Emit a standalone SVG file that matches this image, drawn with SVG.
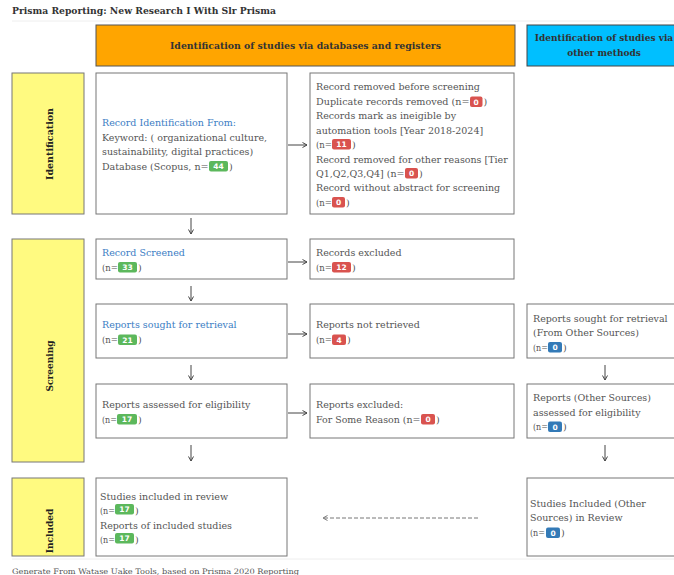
<svg xmlns="http://www.w3.org/2000/svg" width="674" height="575" viewBox="0 0 674 575">
<style>
.t{font-family:"DejaVu Serif","Liberation Serif",serif;font-size:9.5px;fill:#555}
.bl{fill:#3b7dc4}
.hdr{font-family:"DejaVu Serif","Liberation Serif",serif;font-weight:bold;font-size:9px;fill:#333}
.side{font-family:"DejaVu Serif","Liberation Serif",serif;font-weight:bold;font-size:9px;fill:#222;text-anchor:middle}
.box{fill:#fff;stroke:#777;stroke-width:1}
.yb{fill:#fffa80;stroke:#777;stroke-width:1}
.bg{fill:#5cb85c}.br{fill:#d9534f}.bb{fill:#337ab7}
.bt{font-family:"DejaVu Sans","Liberation Sans",sans-serif;font-size:7.5px;font-weight:bold;fill:#fff;text-anchor:middle}
.ar{stroke:#444;stroke-width:1;fill:none}
.dash{stroke:#777;stroke-width:1;fill:none;stroke-dasharray:4 2}
.ft{font-family:"DejaVu Serif","Liberation Serif",serif;font-size:7.5px;fill:#555}
</style>
<defs>
<marker id="ah" markerWidth="6" markerHeight="6" refX="5" refY="3" orient="auto" markerUnits="userSpaceOnUse">
<path d="M0.5,0.5 L5,3 L0.5,5.5" fill="none" stroke="#444" stroke-width="1"/>
</marker>
<marker id="ahg" markerWidth="6" markerHeight="6" refX="5" refY="3" orient="auto" markerUnits="userSpaceOnUse">
<path d="M0.5,0.5 L5,3 L0.5,5.5" fill="none" stroke="#777" stroke-width="1"/>
</marker>
</defs>
<rect width="674" height="575" fill="#fff"/>
<text x="12" y="14" class="hdr" textLength="264" lengthAdjust="spacingAndGlyphs">Prisma Reporting: New Research I With Slr Prisma</text>
<line x1="12" y1="21" x2="674" y2="21" stroke="#eee" stroke-width="1"/>
<line x1="12" y1="559" x2="674" y2="559" stroke="#eee" stroke-width="1"/>

<g id="hdr-db">
<rect x="96" y="25" width="419" height="41" fill="#ffa500" stroke="#555" stroke-width="1"/>
<text x="305.5" y="48.5" class="hdr" text-anchor="middle" textLength="271" lengthAdjust="spacingAndGlyphs">Identification of studies via databases and registers</text>
</g>
<g id="hdr-other">
<rect x="527" y="25" width="160" height="41" fill="#00bfff" stroke="#444" stroke-width="1"/>
<text x="604" y="41" class="hdr" text-anchor="middle">Identification of studies via</text>
<text x="604" y="55.5" class="hdr" text-anchor="middle">other methods</text>
</g>

<g id="phase-identification">
<rect x="12" y="73" width="72" height="141" class="yb"/>
<text class="side" transform="translate(53,144) rotate(-90)" textLength="72" lengthAdjust="spacingAndGlyphs">Identification</text>
</g>
<g id="phase-screening">
<rect x="12" y="239" width="72" height="223" class="yb"/>
<text class="side" transform="translate(53,366) rotate(-90)">Screening</text>
</g>
<g id="phase-included">
<rect x="12" y="478" width="72" height="78" class="yb"/>
<text class="side" transform="translate(53,531) rotate(-90)">Included</text>
</g>

<g id="n-identified">
<rect x="96" y="73" width="191" height="141" class="box"/>
<text x="102" y="126" class="t bl">Record Identification From:</text>
<text x="102" y="140.5" class="t">Keyword: ( organizational culture,</text>
<text x="102" y="155" class="t">sustainability, digital practices)</text>
<text x="102" y="169.5" class="t" textLength="106.5" lengthAdjust="spacingAndGlyphs">Database (Scopus, n=</text>
<rect x="209" y="161" width="19" height="10.5" rx="2" class="bg"/><text x="218.5" y="169.2" class="bt">44</text>
<text x="229" y="169.5" class="t">)</text>
</g>

<g id="n-removed">
<rect x="310" y="73" width="204" height="141" class="box"/>
<text x="316" y="89.5" class="t">Record removed before screening</text>
<text x="316" y="104.5" class="t" textLength="153.5" lengthAdjust="spacingAndGlyphs">Duplicate records removed (n=</text>
<rect x="470" y="96.5" width="12.5" height="10.5" rx="2" class="br"/><text x="476.2" y="104.7" class="bt">0</text>
<text x="483.5" y="104.5" class="t">)</text>
<text x="316" y="118.5" class="t">Records mark as ineigible by</text>
<text x="316" y="133.5" class="t">automation tools [Year 2018-2024]</text>
<text x="316" y="147.5" class="t" textLength="16" lengthAdjust="spacingAndGlyphs">(n=</text>
<rect x="332" y="139" width="19" height="10.5" rx="2" class="br"/><text x="341.5" y="147.2" class="bt">11</text>
<text x="352" y="147.5" class="t">)</text>
<text x="316" y="162.5" class="t">Record removed for other reasons [Tier</text>
<text x="316" y="176.5" class="t" textLength="88.5" lengthAdjust="spacingAndGlyphs">Q1,Q2,Q3,Q4] (n=</text>
<rect x="405" y="168" width="13" height="10.5" rx="2" class="br"/><text x="411.5" y="176.2" class="bt">0</text>
<text x="419" y="176.5" class="t">)</text>
<text x="316" y="190.5" class="t">Record without abstract for screening</text>
<text x="316" y="205.5" class="t" textLength="16" lengthAdjust="spacingAndGlyphs">(n=</text>
<rect x="332" y="197" width="13" height="10.5" rx="2" class="br"/><text x="338.5" y="205.2" class="bt">0</text>
<text x="346" y="205.5" class="t">)</text>
</g>

<g id="n-screened">
<rect x="96" y="239" width="191" height="40" class="box"/>
<text x="102" y="255.5" class="t bl">Record Screened</text>
<text x="102" y="270.5" class="t" textLength="16" lengthAdjust="spacingAndGlyphs">(n=</text>
<rect x="118" y="262" width="19" height="10.5" rx="2" class="bg"/><text x="127.5" y="270.2" class="bt">33</text>
<text x="138" y="270.5" class="t">)</text>
</g>

<g id="n-excluded">
<rect x="310" y="239" width="204" height="40" class="box"/>
<text x="316" y="255.5" class="t">Records excluded</text>
<text x="316" y="270.5" class="t" textLength="16" lengthAdjust="spacingAndGlyphs">(n=</text>
<rect x="332" y="262" width="19" height="10.5" rx="2" class="br"/><text x="341.5" y="270.2" class="bt">12</text>
<text x="352" y="270.5" class="t">)</text>
</g>

<g id="n-sought">
<rect x="96" y="304" width="191" height="54" class="box" stroke="#444"/>
<text x="102" y="327.5" class="t bl">Reports sought for retrieval</text>
<text x="102" y="342.5" class="t" textLength="16" lengthAdjust="spacingAndGlyphs">(n=</text>
<rect x="118" y="334.5" width="19" height="10.5" rx="2" class="bg"/><text x="127.5" y="342.7" class="bt">21</text>
<text x="138" y="342.5" class="t">)</text>
</g>

<g id="n-notretrieved">
<rect x="310" y="304" width="204" height="54" class="box"/>
<text x="316" y="327.5" class="t">Reports not retrieved</text>
<text x="316" y="342.5" class="t" textLength="16" lengthAdjust="spacingAndGlyphs">(n=</text>
<rect x="332" y="334.5" width="14" height="10.5" rx="2" class="br"/><text x="339" y="342.7" class="bt">4</text>
<text x="347" y="342.5" class="t">)</text>
</g>

<g id="n-other-sought">
<rect x="527" y="304" width="160" height="54" class="box"/>
<text x="533" y="321.5" class="t">Reports sought for retrieval</text>
<text x="533" y="335.5" class="t">(From Other Sources)</text>
<text x="533" y="350.5" class="t" textLength="15" lengthAdjust="spacingAndGlyphs">(n=</text>
<rect x="548" y="342" width="14" height="10.5" rx="2" class="bb"/><text x="555" y="350.2" class="bt">0</text>
<text x="563" y="350.5" class="t">)</text>
</g>

<g id="n-assessed">
<rect x="96" y="384" width="191" height="54" class="box"/>
<text x="102" y="407.5" class="t">Reports assessed for eligibility</text>
<text x="102" y="422.5" class="t" textLength="15" lengthAdjust="spacingAndGlyphs">(n=</text>
<rect x="117" y="414" width="20" height="10.5" rx="2" class="bg"/><text x="127" y="422.2" class="bt">17</text>
<text x="138" y="422.5" class="t">)</text>
</g>

<g id="n-reports-excluded">
<rect x="310" y="384" width="204" height="54" class="box"/>
<text x="316" y="407.5" class="t">Reports excluded:</text>
<text x="316" y="422.5" class="t" textLength="104.5" lengthAdjust="spacingAndGlyphs">For Some Reason (n=</text>
<rect x="421" y="414" width="14" height="10.5" rx="2" class="br"/><text x="428" y="422.2" class="bt">0</text>
<text x="436" y="422.5" class="t">)</text>
</g>

<g id="n-other-assessed">
<rect x="527" y="384" width="160" height="54" class="box"/>
<text x="533" y="400.5" class="t">Reports (Other Sources)</text>
<text x="533" y="415.5" class="t">assessed for eligibility</text>
<text x="533" y="429.5" class="t" textLength="15" lengthAdjust="spacingAndGlyphs">(n=</text>
<rect x="548" y="421.5" width="14" height="10.5" rx="2" class="bb"/><text x="555" y="429.7" class="bt">0</text>
<text x="563" y="429.5" class="t">)</text>
</g>

<g id="n-included">
<rect x="96" y="478" width="191" height="78" class="box"/>
<text x="100" y="499.5" class="t">Studies included in review</text>
<text x="100" y="513.5" class="t" textLength="15" lengthAdjust="spacingAndGlyphs">(n=</text>
<rect x="115" y="504" width="19" height="10.5" rx="2" class="bg"/><text x="124.5" y="512.2" class="bt">17</text>
<text x="135" y="513.5" class="t">)</text>
<text x="100" y="528.5" class="t">Reports of included studies</text>
<text x="100" y="542.5" class="t" textLength="15" lengthAdjust="spacingAndGlyphs">(n=</text>
<rect x="115" y="533" width="19" height="10.5" rx="2" class="bg"/><text x="124.5" y="541.2" class="bt">17</text>
<text x="135" y="542.5" class="t">)</text>
</g>

<g id="n-other-included">
<rect x="527" y="478" width="160" height="78" class="box"/>
<text x="530" y="506.5" class="t">Studies Included (Other</text>
<text x="530" y="520.5" class="t">Sources) in Review</text>
<text x="530" y="535.5" class="t" textLength="15" lengthAdjust="spacingAndGlyphs">(n=</text>
<rect x="546" y="527.5" width="14" height="10.5" rx="2" class="bb"/><text x="553" y="535.7" class="bt">0</text>
<text x="561" y="535.5" class="t">)</text>
</g>

<g id="connectors">
<line x1="191" y1="218" x2="191" y2="234" class="ar" marker-end="url(#ah)"/>
<line x1="191" y1="286" x2="191" y2="301" class="ar" marker-end="url(#ah)"/>
<line x1="191" y1="365" x2="191" y2="380" class="ar" marker-end="url(#ah)"/>
<line x1="191" y1="445" x2="191" y2="461" class="ar" marker-end="url(#ah)"/>
<line x1="605" y1="365" x2="605" y2="380" class="ar" marker-end="url(#ah)"/>
<line x1="605" y1="445" x2="605" y2="461" class="ar" marker-end="url(#ah)"/>
<line x1="288" y1="145" x2="307" y2="145" class="ar" marker-end="url(#ah)"/>
<line x1="288" y1="262" x2="307" y2="262" class="ar" marker-end="url(#ah)"/>
<line x1="288" y1="334" x2="307" y2="334" class="ar" marker-end="url(#ah)"/>
<line x1="288" y1="413" x2="307" y2="413" class="ar" marker-end="url(#ah)"/>
<line x1="478" y1="518" x2="323" y2="518" class="dash" marker-end="url(#ahg)"/>
</g>

<text x="12" y="574" class="ft" textLength="287" lengthAdjust="spacingAndGlyphs">Generate From Watase Uake Tools, based on Prisma 2020 Reporting</text>
</svg>
